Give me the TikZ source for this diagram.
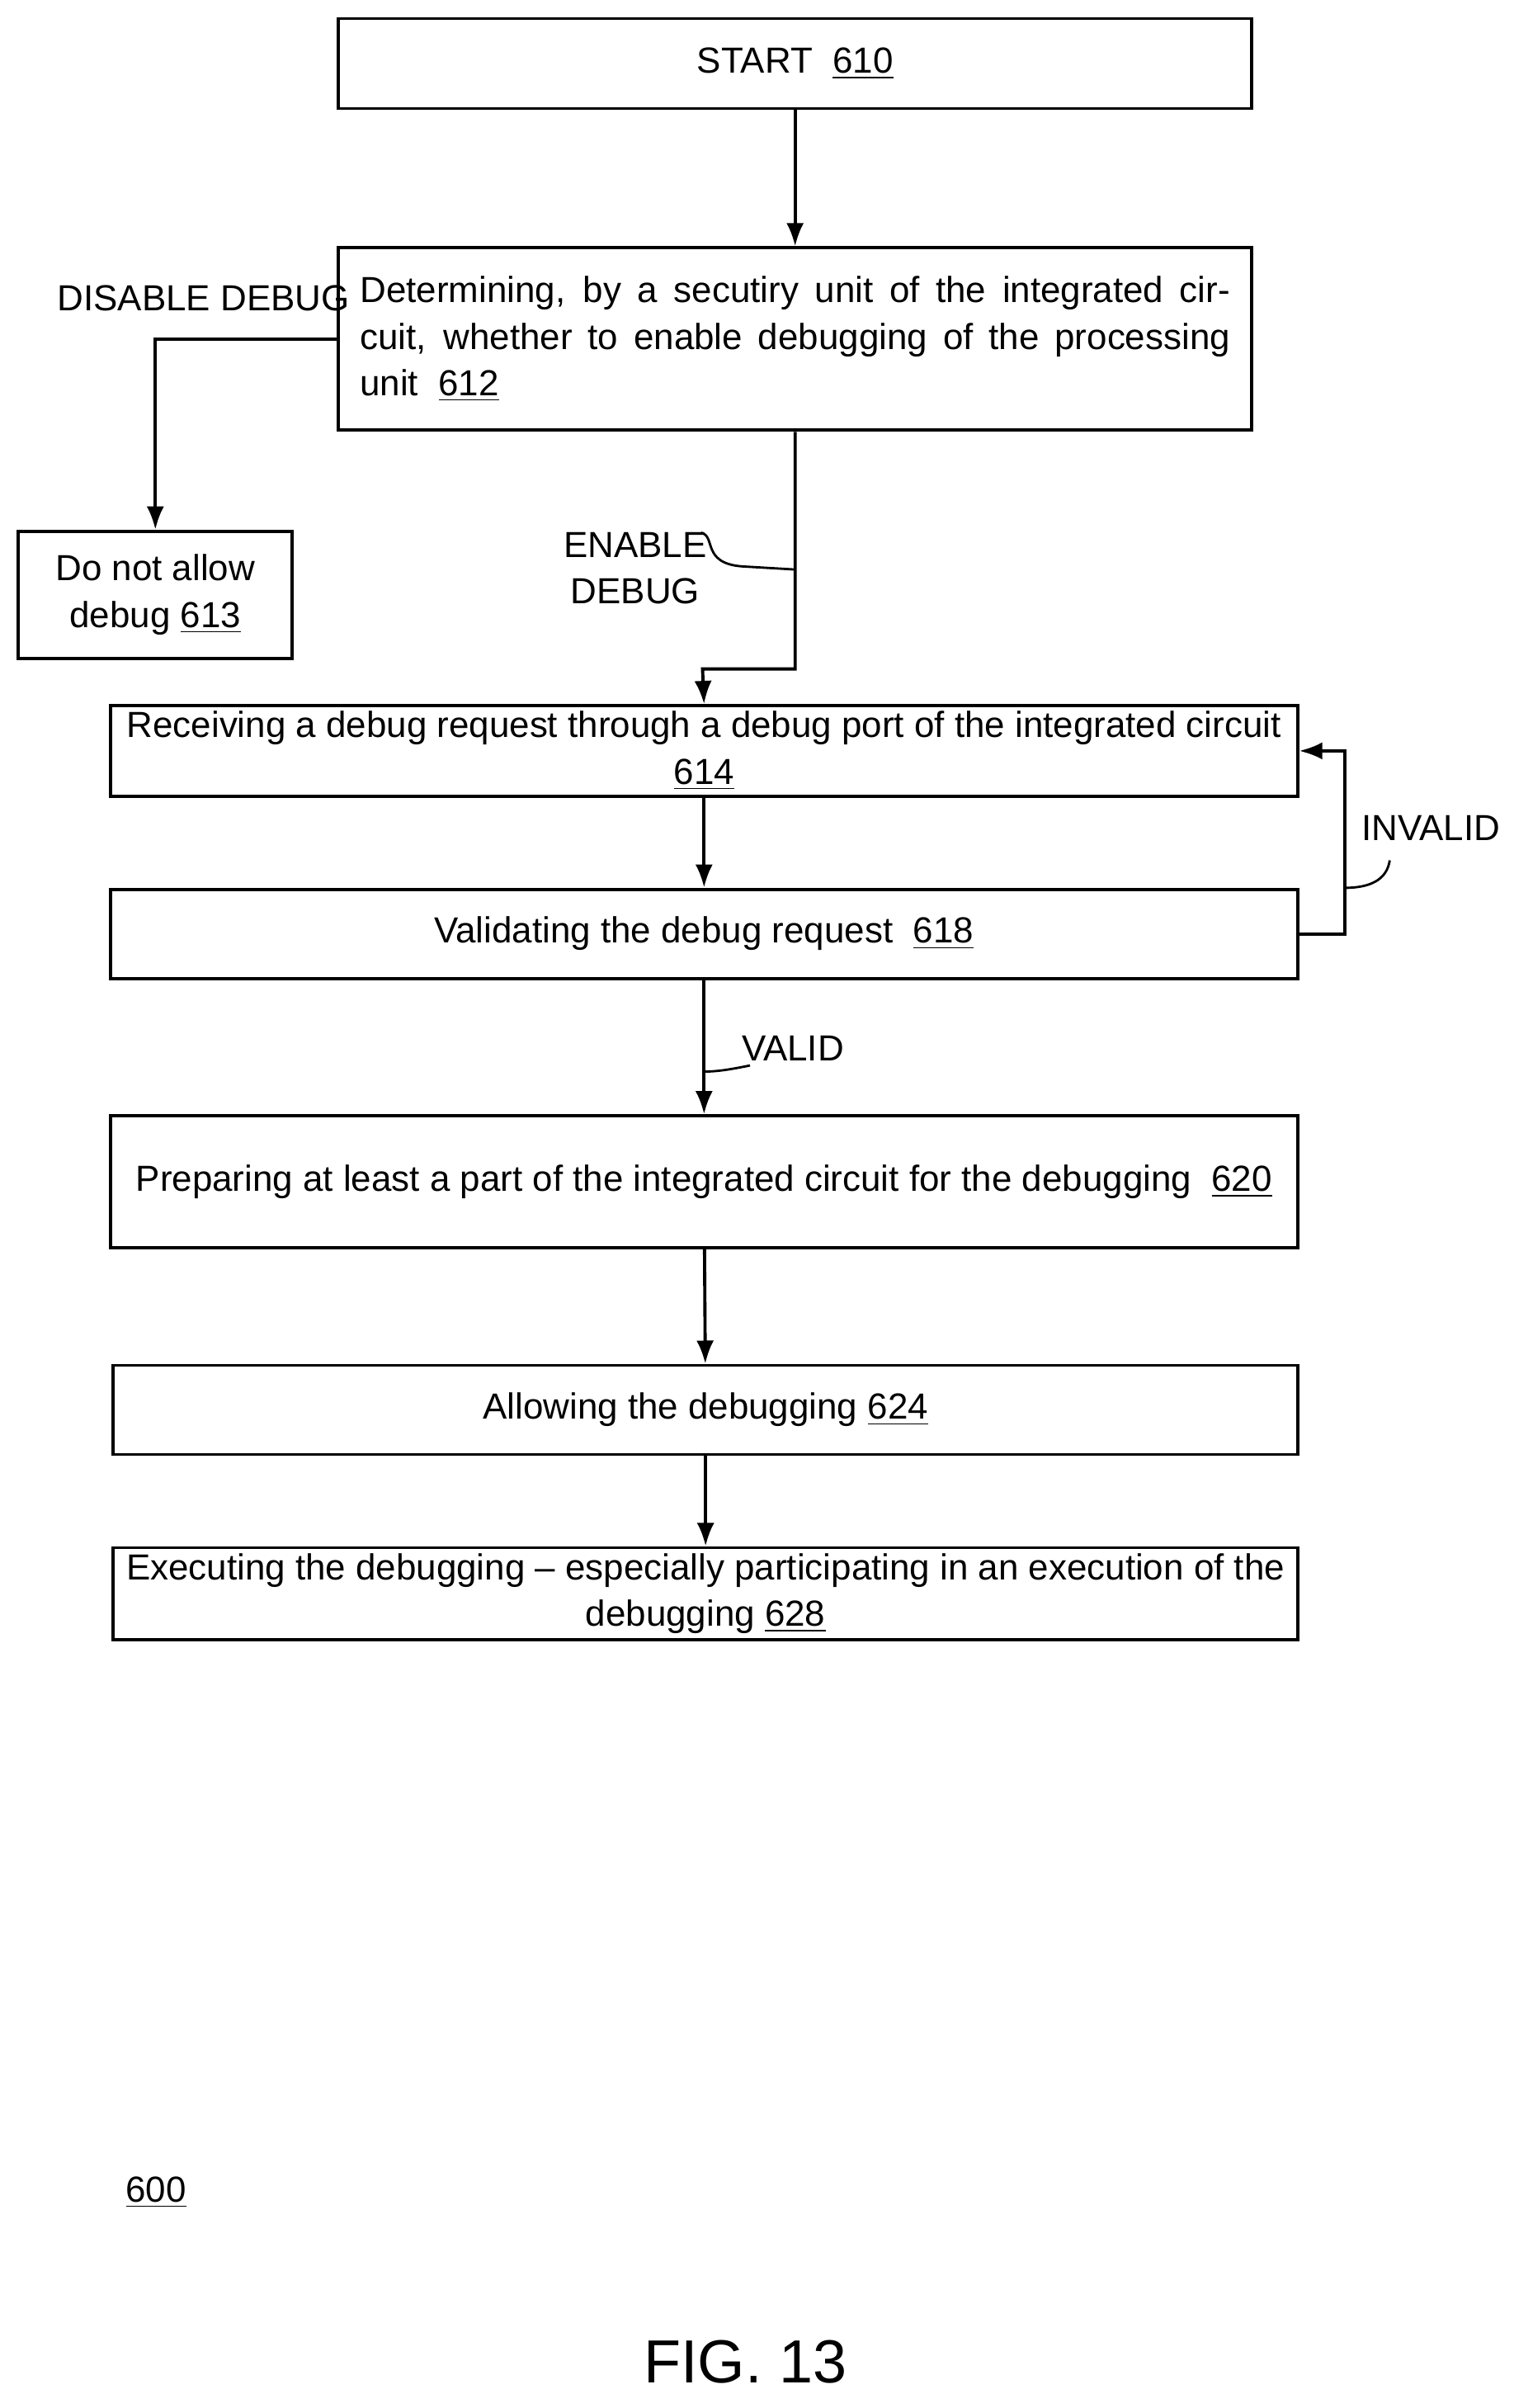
\documentclass[tikz,border=0pt]{standalone}
\usepackage{fontspec}
\setmainfont{Liberation Sans}
\usetikzlibrary{arrows.meta}
\tikzset{box/.style={draw,line width=1.1pt,inner sep=2pt,align=center,font=\fontsize{12.5}{16}\selectfont}}
\tikzset{flow/.style={line width=1.1pt,-{Latex[length=8pt,width=6pt]}}}
\tikzset{lbl/.style={font=\fontsize{12.5}{16}\selectfont,align=center,inner sep=1pt}}
\tikzset{lead/.style={line width=0.8pt}}
\newcommand{\refno}[1]{\underline{#1}}
\begin{document}
\begin{tikzpicture}[x=0.01855cm,y=-0.01855cm]
    \useasboundingbox (0,0) rectangle (988.7,1573);
    % Boxes
    \node[box,minimum width=11.07cm,minimum height=1.09cm] (start) at (519.5,41.5) {START\ \ \refno{610}};
    \node[box,minimum width=11.07cm,minimum height=2.21cm] (determine) at (519.5,221.5)
      {\parbox{10.55cm}{\fontsize{12.5}{16}\selectfont Determining, by a secutiry unit of the integrated circuit, whether to enable debugging of the processing unit\ \ \refno{612}}};
    \node[box,minimum width=3.32cm,minimum height=1.54cm] (deny) at (101.5,388.5) {Do not allow\\debug \refno{613}};
    \node[box,minimum width=14.39cm,minimum height=1.09cm] (receive) at (460,490.5)
      {Receiving a debug request through a debug port of the integrated circuit\\\refno{614}};
    \node[box,minimum width=14.39cm,minimum height=1.08cm] (validate) at (460,610) {Validating the debug request\ \ \refno{618}};
    \node[box,minimum width=14.39cm,minimum height=1.6cm] (prepare) at (460,772)
      {Preparing at least a part of the integrated circuit for the debugging\ \ \refno{620}};
    \node[box,minimum width=14.36cm,minimum height=1.08cm] (allow) at (461,921) {Allowing the debugging \refno{624}};
    \node[box,minimum width=14.36cm,minimum height=1.11cm] (execute) at (461,1041)
      {Executing the debugging -- especially participating in an execution of the\\debugging \refno{628}};
    % Connectors
    \draw[flow] (start) -- (determine);
    \draw[flow] (determine.west) -| (deny.north);
    \draw[flow] (determine.south) |- (459,437) -- (receive.north);
    \draw[flow] (receive) -- (validate);
    \draw[flow] (validate.east) -- ++(30,0) |- (receive.east);
    \draw[flow] (validate) -- (prepare);
    \draw[flow] (prepare) -- (allow);
    \draw[flow] (allow) -- (execute);
    % Labels
    \node[lbl] (disable) at (133,195) {DISABLE DEBUG};
    \node[lbl] (enable) at (415,371) {ENABLE\\DEBUG};
    \node[lbl] (invalid) at (935,541) {INVALID};
    \node[lbl] (valid) at (518,685) {VALID};
    \coordinate (enableEnd) at (519,372);
    \coordinate (invalidEnd) at (878,580);
    \coordinate (validEnd) at (460,700);
    \draw[lead] (458,348) .. controls (468,350) and (458,368) .. (485,370) -- (enableEnd);
    \draw[lead] (908,562) .. controls (906,575) and (895,580) .. (invalidEnd);
    \draw[lead] (490,696) .. controls (480,698) and (470,700) .. (validEnd);
    \node[lbl] (fignum) at (102,1432) {\refno{600}};
    \node[lbl,font=\fontsize{21}{24}\selectfont] (figure) at (487,1543) {FIG. 13};
\end{tikzpicture}
\end{document}
